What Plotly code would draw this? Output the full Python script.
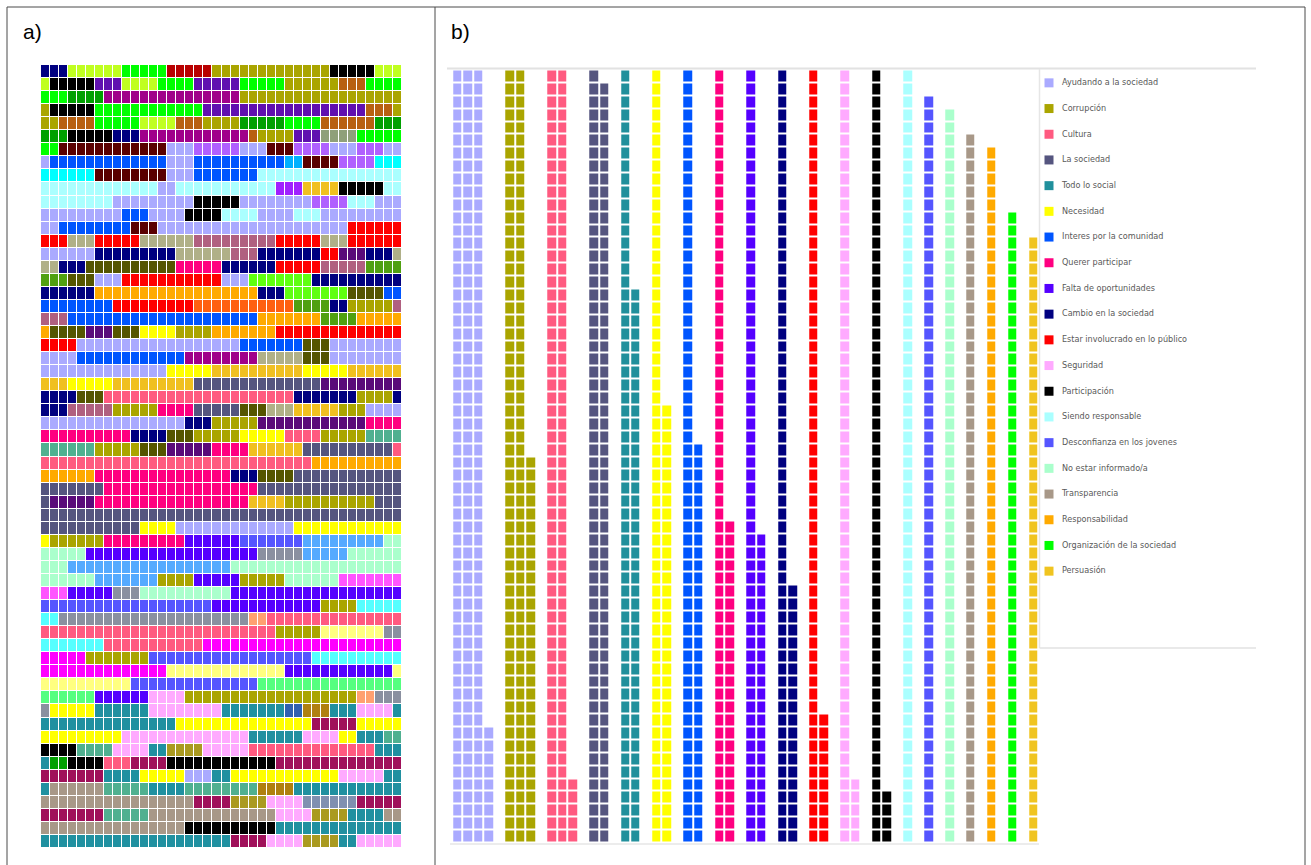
import math
import plotly.graph_objects as go

W, H = 1311, 865

# ---------------- Panel b data ----------------
CATEGORIES = [
    "Ayudando a la sociedad", "Corrupción", "Cultura", "La sociedad", "Todo lo social",
    "Necesidad", "Interes por la comunidad", "Querer participar", "Falta de oportunidades",
    "Cambio en la sociedad", "Estar involucrado en lo público", "Seguridad", "Participación",
    "Siendo responsable", "Desconfianza en los jovenes", "No estar informado/a",
    "Transparencia", "Responsabilidad", "Organización de la sociedad", "Persuasión",
]
COUNTS = [189, 150, 125, 119, 103, 94, 91, 85, 84, 80, 70, 65, 64, 60, 58, 57, 55, 54, 49, 47]
COLORS_B = [
    "#aaaaff", "#aaa500", "#ff5a80", "#55557f", "#21909c", "#ffff00", "#0055ff", "#ff0080",
    "#5500ff", "#000080", "#ff0000", "#ffaaff", "#000000", "#aaffff", "#5555ff", "#aaffcc",
    "#a89888", "#ffaa00", "#00ff00", "#f0c420",
]
ROWS_B = 60

# ---------------- Panel a data (runs per row, 40 cells each) ----------------
PALETTE_A = {
    "nav": "#000080", "lim": "#c0ff20", "grn": "#00ff00", "drd": "#b80000", "olv": "#aaa500",
    "blk": "#000000", "pur": "#6010b0", "brn": "#b86010", "dgr": "#00a000", "mgp": "#a0008a",
    "ggr": "#8fa07a", "mar": "#5a0000", "lav": "#aaaaff", "lpu": "#b060ff", "blu": "#0055ff",
    "lbl": "#00b0ff", "cya": "#00ffff", "pcy": "#aaffff", "vio": "#a020ff", "gld": "#f0c020",
    "red": "#ff0000", "kha": "#b0b088", "mau": "#b06080", "dpu": "#5a0a7a", "dol": "#555500",
    "pnk": "#ff0080", "gol": "#50a010", "chr": "#60ff10", "org": "#ffaa00", "ors": "#ff6010",
    "yel": "#ffff00", "sla": "#55557f", "sal": "#ff5a80", "sea": "#50b090", "vlt": "#5500ff",
    "mbv": "#5555ff", "sky": "#55aaff", "mnt": "#aaffcc", "gry": "#8a90a0", "lmg": "#ff55ff",
    "cyl": "#55ffff", "lor": "#ffa070", "mag": "#ff00ff", "lye": "#ffff80", "lgr": "#55ff80",
    "lpk": "#ffaaff", "tea": "#2090a0", "stb": "#3060b0", "dgd": "#b08010", "ogd": "#aa9a20",
    "crp": "#a0105a", "tan": "#a89888", "gbl": "#8090b0",
}
ROWS_A = [
    "nav3 lim6 grn5 drd5 olv13 blk5 lim3",
    "lim1 blk5 pur3 lim4 grn4 pur5 grn5 olv6 brn3 grn4",
    "grn3 dgr4 mgp15 olv18",
    "olv1 blk5 grn12 pur18 brn3 olv1",
    "olv2 brn4 grn5 lim4 brn3 olv4 dgr5 grn4 brn6 dgr3",
    "dgr3 blk5 nav3 mgp12 brn1 olv4 pur3 ggr4 grn5",
    "grn2 mar12 lav3 lpu5 lav3 mar3 lpu4 lav3 lpu3 lav2",
    "lav1 blu13 lav3 blu10 lbl2 mar4 lpu4 cya3",
    "cya6 mar8 lav3 blu7 pcy16",
    "pcy13 lav2 pcy11 vio3 gld4 blk5 pcy2",
    "pcy8 lav9 blk5 lav8 lpu4 pcy3 lav3",
    "lav9 blu3 lav4 blk4 pcy4 lav4 pcy3 lav9",
    "lav2 blu8 mar3 lav21 red6",
    "red3 kha3 red5 kha6 mau9 red5 kha3 red6",
    "lav6 nav9 kha6 mau3 nav7 red2 dpu3 nav3 kha1",
    "kha2 nav3 dol10 pnk5 nav6 red5 mau5 gol4",
    "gol3 dol3 lav3 red11 lav3 chr7 nav10",
    "nav6 org18 nav3 chr7 dol4 blu2",
    "blu8 red9 ors11 gol4 nav2 olv5 mau1",
    "mau3 blu21 org7 gol4 org5",
    "org1 dol4 dpu3 dol3 yel4 olv4 org7 red14",
    "red4 lav18 blu7 dol3 lav8",
    "lav4 blu12 mgp8 kha5 dol3 lav8",
    "lav14 yel5 gld10 yel5 gld6",
    "gld3 yel5 gld9 sla14 dpu9",
    "nav4 dol3 sal21 nav7 olv4 nav1",
    "nav3 mau5 olv5 pnk4 sla5 dol3 kha3 gld5 olv3 lav4",
    "lav16 nav3 olv5 dpu12 pnk4",
    "pnk10 nav4 dol3 olv5 yel5 sal4 olv5 sea4",
    "sea6 olv5 dol3 dpu5 pnk4 gld6 sla10 sal1",
    "sal30 org10",
    "org6 pnk15 nav3 dol4 sla12",
    "sla7 pnk17 sla16",
    "sla1 dpu5 pnk17 gld4 olv10 sla3",
    "sla40",
    "sla11 yel4 lav13 yel12",
    "yel1 olv6 pnk9 vlt6 mbv7 sky9 mnt2",
    "mnt5 vlt19 gry5 sky5 mnt6",
    "mnt3 sky18 mnt19",
    "mnt6 sky7 olv4 vlt5 olv5 mnt6 lmg7",
    "lmg3 vlt5 gry3 mnt10 vlt19",
    "mbv19 vlt12 olv4 cyl5",
    "cyl2 gry21 lor2 sal15",
    "sal26 olv5 lye7 gry2",
    "cyl7 sal11 mag22",
    "mag5 olv7 mbv18 cyl10",
    "mag14 lye13 vlt12 lye1",
    "lye10 mbv14 lgr16",
    "lgr6 vlt6 lpk4 olv19 lor2 gry3",
    "gry1 yel5 tea6 lpk8 tea7 stb2 dgd3 tea3 lpk4 tea1",
    "tea15 yel15 crp5 yel5",
    "yel9 lpk14 tea6 lpk4 yel2 tea3 sea2",
    "blk4 sea4 lpk4 tea2 ogd4 lpk5 sal14 tea3",
    "tea1 dgr2 blk4 sal3 crp4 blk12 crp14",
    "crp7 tea4 yel5 lav3 tea2 yel12 lpk5 tea2",
    "tea1 tan6 sea5 tea4 sea8 dgd4 tea12",
    "tan17 crp4 ogd4 lpk4 gbl6 crp5",
    "crp7 sea5 tan14 lpk4 ogd4 tea4 tan2",
    "tan16 blk10 tea14",
    "tea21 crp4 lpk4 ogd4 tea2 lpk5",
]


def discrete_scale(colors):
    n = len(colors)
    scale = []
    for k, c in enumerate(colors):
        scale.append([k / n, c])
        scale.append([(k + 1) / n, c])
    return scale


def px(x):
    return x / W


def py(y):
    return 1 - y / H


# ---- build panel a grid ----
codes = list(PALETTE_A.keys())
code_idx = {c: i for i, c in enumerate(codes)}
z_a = []
for row in ROWS_A:
    cells = []
    for tok in row.split():
        cells += [code_idx[tok[:3]]] * int(tok[3:])
    z_a.append(cells)

# ---- build panel b grid ----
ncols = [math.ceil(n / ROWS_B) for n in COUNTS]
starts = []
s = 0
for nc in ncols:
    starts.append(s)
    s += nc + 1
total_units = starts[-1] + ncols[-1]
z_b = [[None] * total_units for _ in range(ROWS_B)]
for j, n in enumerate(COUNTS):
    left = n
    for c in range(ncols[j]):
        k = min(ROWS_B, left)
        for r in range(ROWS_B - k, ROWS_B):
            z_b[r][starts[j] + c] = j
        left -= k

fig = go.Figure()

fig.add_trace(go.Heatmap(
    z=z_a, xaxis="x", yaxis="y", colorscale=discrete_scale([PALETTE_A[c] for c in codes]),
    zmin=-0.5, zmax=len(codes) - 0.5, showscale=False, xgap=1, ygap=1, hoverinfo="skip",
))
fig.add_trace(go.Heatmap(
    z=z_b, xaxis="x2", yaxis="y2", colorscale=discrete_scale(COLORS_B),
    zmin=-0.5, zmax=len(COLORS_B) - 0.5, showscale=False, xgap=2, ygap=2, hoverinfo="skip",
))

# legend drawn as a marker column with labels
idx = list(range(len(CATEGORIES)))
fig.add_trace(go.Scatter(
    x=[9] * len(idx), y=idx, xaxis="x3", yaxis="y3", mode="markers",
    marker=dict(symbol="square", size=9, color=COLORS_B, line=dict(width=0)),
    hoverinfo="skip", showlegend=False,
))
fig.add_trace(go.Scatter(
    x=[22] * len(idx), y=idx, xaxis="x3", yaxis="y3", mode="text",
    text=CATEGORIES, textposition="middle right",
    textfont=dict(size=9, color="#595959",
                  family="Liberation Sans Narrow, DejaVu Sans Condensed, Arial Narrow, sans-serif"),
    hoverinfo="skip", showlegend=False,
))

hidden = dict(visible=False, showgrid=False, zeroline=False, fixedrange=True)
fig.update_layout(
    width=W, height=H, margin=dict(l=0, r=0, t=0, b=0),
    paper_bgcolor="white", plot_bgcolor="white", showlegend=False,
    xaxis=dict(hidden, domain=[px(41), px(402)], range=[-0.5, 39.5]),
    yaxis=dict(hidden, domain=[py(848), py(65)], range=[59.5, -0.5]),
    xaxis2=dict(hidden, domain=[px(452.2), px(1038.5)], range=[-0.5, total_units - 0.5]),
    yaxis2=dict(hidden, domain=[py(842.5), py(69.5)], range=[ROWS_B - 0.5, -0.5]),
    xaxis3=dict(hidden, domain=[px(1040), px(1255)], range=[0, 215]),
    yaxis3=dict(hidden, domain=[py(584), py(70)], range=[len(idx) - 0.5, -0.5]),
)

line_dark = dict(color="#4a4a4a", width=1)
line_light = dict(color="#e2e2e2", width=2)
shapes = [
    dict(type="line", xref="paper", yref="paper", x0=px(7), x1=px(1305), y0=py(7), y1=py(7), line=line_dark),
    dict(type="line", xref="paper", yref="paper", x0=px(7), x1=px(7), y0=py(7), y1=py(865), line=line_dark),
    dict(type="line", xref="paper", yref="paper", x0=px(435), x1=px(435), y0=py(7), y1=py(865), line=line_dark),
    dict(type="line", xref="paper", yref="paper", x0=px(1305), x1=px(1305), y0=py(7), y1=py(865), line=line_dark),
    dict(type="line", xref="paper", yref="paper", x0=px(447), x1=px(1256), y0=py(68.5), y1=py(68.5), line=line_light),
    dict(type="line", xref="paper", yref="paper", x0=px(450), x1=px(1039), y0=py(844), y1=py(844),
         line=dict(color="#ececec", width=2)),
    dict(type="line", xref="paper", yref="paper", x0=px(1039.5), x1=px(1039.5), y0=py(69), y1=py(648),
         line=dict(color="#e6e6e6", width=1.5)),
    dict(type="line", xref="paper", yref="paper", x0=px(1039.5), x1=px(1256), y0=py(648), y1=py(648),
         line=dict(color="#e2e2e2", width=1.5)),
]
fig.update_layout(shapes=shapes)

fig.add_annotation(x=px(21), y=py(31), xref="paper", yref="paper", text="a)", showarrow=False,
                   xanchor="left", yanchor="middle",
                   font=dict(size=21, color="#000000", family="Liberation Sans, Arial, sans-serif"))
fig.add_annotation(x=px(449), y=py(31), xref="paper", yref="paper", text="b)", showarrow=False,
                   xanchor="left", yanchor="middle",
                   font=dict(size=21, color="#000000", family="Liberation Sans, Arial, sans-serif"))

fig.write_html(
    "out.html",
    config={"displayModeBar": False},
    post_script="document.body.style.margin='0px'; document.body.style.overflow='hidden';",
)
